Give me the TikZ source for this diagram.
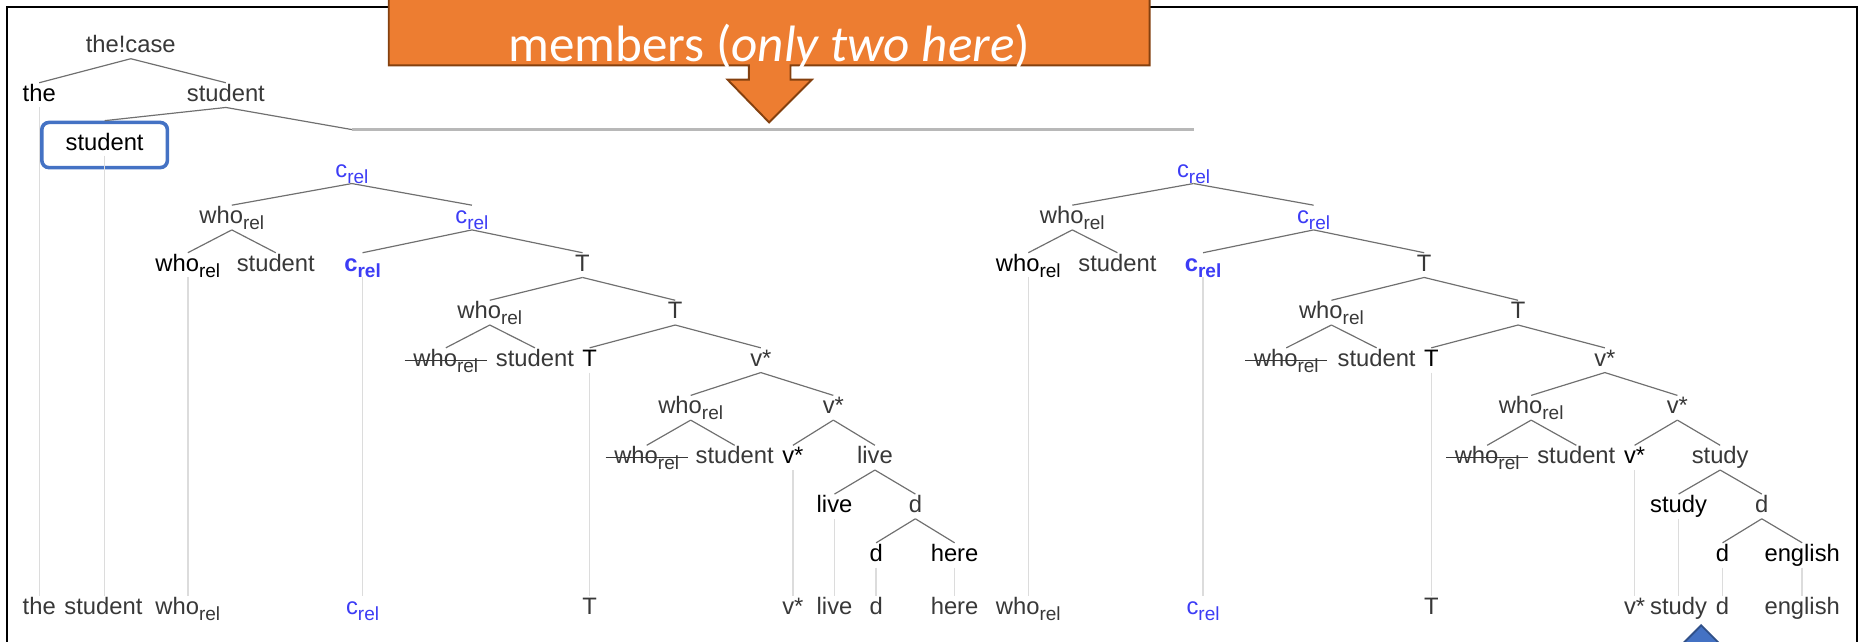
\documentclass[tikz,border=0pt]{standalone}
\usepackage{fontspec}
\setmainfont{Liberation Sans}
\newfontfamily\calloutfont{Carlito}

\definecolor{edgegray}{HTML}{707070}
\definecolor{projgray}{HTML}{DCDCDC}
\definecolor{setgray}{HTML}{B8B8B8}
\definecolor{labelgray}{HTML}{383838}
\definecolor{relblue}{HTML}{3C3CF5}
\definecolor{boxblue}{HTML}{4472C4}
\definecolor{calloutorange}{HTML}{ED7D31}
\definecolor{calloutedge}{HTML}{84400F}

% subscript "rel" as the tree viewer prints it
\newcommand{\relsub}{\raisebox{-0.5ex}{\fontsize{8}{9}\selectfont rel}}

\begin{document}
\begin{tikzpicture}[x=0.5pt, y=-0.5pt]

% Set the overall frame of the picture
\useasboundingbox (0,0) rectangle (1568,540);
\draw[line width=0.9pt] (6,560) -- (6,6) -- (1562,6) -- (1562,560);

% Define styles for words, heads and lines
\tikzstyle{word} = [text=labelgray, inner sep=0.5pt, text height=7pt, text depth=2pt, font=\fontsize{10}{12}\selectfont]
\tikzstyle{headword} = [word, text=black]
\tikzstyle{relword} = [word, text=relblue]
\tikzstyle{relhead} = [word, text=relblue, font=\fontsize{10}{12}\selectfont\bfseries]
\tikzstyle{branch} = [draw=edgegray, line width=0.5pt]
\tikzstyle{projline} = [draw=projgray, line width=0.6pt]
\tikzstyle{strikeline} = [draw=labelgray, line width=0.5pt]

% Top of the tree
\node[word] (thecase) at (110,39) {the!case};
\node[headword] (the) at (33,80) {the};
\node[word] (student) at (190,80) {student};
\node[headword, draw=boxblue, line width=1.5pt, rounded corners=3pt, inner xsep=10pt, inner ysep=5pt] (boxstud) at (88,122) {student};
\coordinate (setl) at (296,109);
\coordinate (setr) at (1004,109);

%Left relative clause (live here)
\node[relword] (lc0) at (296,144) {c\relsub};
\node[word] (lw1) at (195,183) {who\relsub};
\node[relword] (lc1) at (397,183) {c\relsub};
\node[headword] (lw2) at (158,223) {who\relsub};
\node[word] (ls2) at (232,223) {student};
\node[relhead] (lc2) at (305,223) {c\relsub};
\node[word] (lT1) at (490,223) {T};
\node[word] (lw3) at (412,263) {who\relsub};
\node[word] (lT2) at (568,263) {T};
\node[word] (lw4) at (375,303) {who\relsub};
\node[word] (ls4) at (450,303) {student};
\node[headword] (lT3) at (496,303) {T};
\node[word] (lv1) at (640,303) {v*};
\node[word] (lw5) at (581,343) {who\relsub};
\node[word] (lv2) at (701,343) {v*};
\node[word] (lw6) at (544,385) {who\relsub};
\node[word] (ls6) at (618,385) {student};
\node[headword] (lv3) at (667,385) {v*};
\node[word] (lverb1) at (736,385) {live};
\node[headword] (lverb2) at (702,426) {live};
\node[word] (ld1) at (770,426) {d};
\node[headword] (ld2) at (737,467) {d};
\node[headword] (lobj) at (803,467) {here};

%Right relative clause (study english)
\node[relword] (rc0) at (1004,144) {c\relsub};
\node[word] (rw1) at (902,183) {who\relsub};
\node[relword] (rc1) at (1105,183) {c\relsub};
\node[headword] (rw2) at (865,223) {who\relsub};
\node[word] (rs2) at (940,223) {student};
\node[relhead] (rc2) at (1012,223) {c\relsub};
\node[word] (rT1) at (1198,223) {T};
\node[word] (rw3) at (1120,263) {who\relsub};
\node[word] (rT2) at (1277,263) {T};
\node[word] (rw4) at (1082,303) {who\relsub};
\node[word] (rs4) at (1158,303) {student};
\node[headword] (rT3) at (1204,303) {T};
\node[word] (rv1) at (1350,303) {v*};
\node[word] (rw5) at (1288,343) {who\relsub};
\node[word] (rv2) at (1411,343) {v*};
\node[word] (rw6) at (1251,385) {who\relsub};
\node[word] (rs6) at (1326,385) {student};
\node[headword] (rv3) at (1375,385) {v*};
\node[word] (rverb1) at (1447,385) {study};
\node[headword] (rverb2) at (1412,426) {study};
\node[word] (rd1) at (1482,426) {d};
\node[headword] (rd2) at (1449,467) {d};
\node[headword] (robj) at (1516,467) {english};

% Bottom row (linearised words)
\node[word] (bthe) at (33,512) {the};
\node[word] (bstud) at (87,512) {student};
\node[word] (blw) at (158,512) {who\relsub};
\node[relword] (blc) at (305,512) {c\relsub};
\node[word] (blT) at (496,512) {T};
\node[word] (blv) at (667,512) {v*};
\node[word] (blverb) at (702,512) {live};
\node[word] (bld) at (737,512) {d};
\node[word] (blobj) at (803,512) {here};
\node[word] (brw) at (865,512) {who\relsub};
\node[relword] (brc) at (1012,512) {c\relsub};
\node[word] (brT) at (1204,512) {T};
\node[word] (brv) at (1375,512) {v*};
\node[word] (brverb) at (1412,512) {study};
\node[word] (brd) at (1449,512) {d};
\node[word] (brobj) at (1516,512) {english};

% Branches
\draw[branch] (thecase.south) -- (the.north);
\draw[branch] (thecase.south) -- (student.north);
\draw[branch] (student.south) -- (boxstud.north);
\draw[branch] (student.south) -- (setl);
\draw[draw=setgray, line width=1.1pt] (setl) -- (setr);

\draw[branch] (lc0.south) -- (lw1.north);  \draw[branch] (lc0.south) -- (lc1.north);
\draw[branch] (lw1.south) -- (lw2.north);  \draw[branch] (lw1.south) -- (ls2.north);
\draw[branch] (lc1.south) -- (lc2.north);  \draw[branch] (lc1.south) -- (lT1.north);
\draw[branch] (lT1.south) -- (lw3.north);  \draw[branch] (lT1.south) -- (lT2.north);
\draw[branch] (lw3.south) -- (lw4.north);  \draw[branch] (lw3.south) -- (ls4.north);
\draw[branch] (lT2.south) -- (lT3.north);  \draw[branch] (lT2.south) -- (lv1.north);
\draw[branch] (lv1.south) -- (lw5.north);  \draw[branch] (lv1.south) -- (lv2.north);
\draw[branch] (lw5.south) -- (lw6.north);  \draw[branch] (lw5.south) -- (ls6.north);
\draw[branch] (lv2.south) -- (lv3.north);  \draw[branch] (lv2.south) -- (lverb1.north);
\draw[branch] (lverb1.south) -- (lverb2.north);  \draw[branch] (lverb1.south) -- (ld1.north);
\draw[branch] (ld1.south) -- (ld2.north);  \draw[branch] (ld1.south) -- (lobj.north);

\draw[branch] (rc0.south) -- (rw1.north);  \draw[branch] (rc0.south) -- (rc1.north);
\draw[branch] (rw1.south) -- (rw2.north);  \draw[branch] (rw1.south) -- (rs2.north);
\draw[branch] (rc1.south) -- (rc2.north);  \draw[branch] (rc1.south) -- (rT1.north);
\draw[branch] (rT1.south) -- (rw3.north);  \draw[branch] (rT1.south) -- (rT2.north);
\draw[branch] (rw3.south) -- (rw4.north);  \draw[branch] (rw3.south) -- (rs4.north);
\draw[branch] (rT2.south) -- (rT3.north);  \draw[branch] (rT2.south) -- (rv1.north);
\draw[branch] (rv1.south) -- (rw5.north);  \draw[branch] (rv1.south) -- (rv2.north);
\draw[branch] (rw5.south) -- (rw6.north);  \draw[branch] (rw5.south) -- (rs6.north);
\draw[branch] (rv2.south) -- (rv3.north);  \draw[branch] (rv2.south) -- (rverb1.north);
\draw[branch] (rverb1.south) -- (rverb2.north);  \draw[branch] (rverb1.south) -- (rd1.north);
\draw[branch] (rd1.south) -- (rd2.north);  \draw[branch] (rd1.south) -- (robj.north);

% Struck-out copies
\draw[strikeline] ([xshift=-3pt]lw4.west) -- ([xshift=3pt]lw4.east);
\draw[strikeline] ([xshift=-3pt]lw6.west) -- ([xshift=3pt]lw6.east);
\draw[strikeline] ([xshift=-3pt]rw4.west) -- ([xshift=3pt]rw4.east);
\draw[strikeline] ([xshift=-3pt]rw6.west) -- ([xshift=3pt]rw6.east);

% Lines down to the linear order
\draw[projline] (the.south) -- (bthe.north);
\draw[projline] ([yshift=-4.5pt]boxstud.center) -- (boxstud.center |- bstud.north);
\draw[projline] (lw2.south) -- (blw.north);
\draw[projline] (lc2.south) -- (blc.north);
\draw[projline] (lT3.south) -- (blT.north);
\draw[projline] (lv3.south) -- (blv.north);
\draw[projline] (lverb2.south) -- (blverb.north);
\draw[projline] (ld2.south) -- (bld.north);
\draw[projline] (lobj.south) -- (blobj.north);
\draw[projline] (rw2.south) -- (brw.north);
\draw[projline] (rc2.south) -- (brc.north);
\draw[projline] (rT3.south) -- (brT.north);
\draw[projline] (rv3.south) -- (brv.north);
\draw[projline] (rverb2.south) -- (brverb.north);
\draw[projline] (rd2.south) -- (brd.north);
\draw[projline] (robj.south) -- (brobj.north);

% Orange callout with its arrow
\draw[fill=calloutorange, draw=calloutedge, line width=0.8pt]
  (327,-20) -- (967,-20) -- (967,55) -- (665,55) -- (665,67) -- (683,67) -- (647,103)
  -- (612,67) -- (630,67) -- (630,55) -- (327,55) -- cycle;
\node[anchor=base, text=white, inner sep=0pt, font=\calloutfont\fontsize{21.5}{26}\selectfont] (callout) at (647,52) {members (\textit{only two here})};

% Blue pointer at the bottom
\draw[fill=boxblue, draw=boxblue!70!black, line width=0.8pt] (1431,526) -- (1463,558) -- (1399,558) -- cycle;

\end{tikzpicture}
\end{document}
